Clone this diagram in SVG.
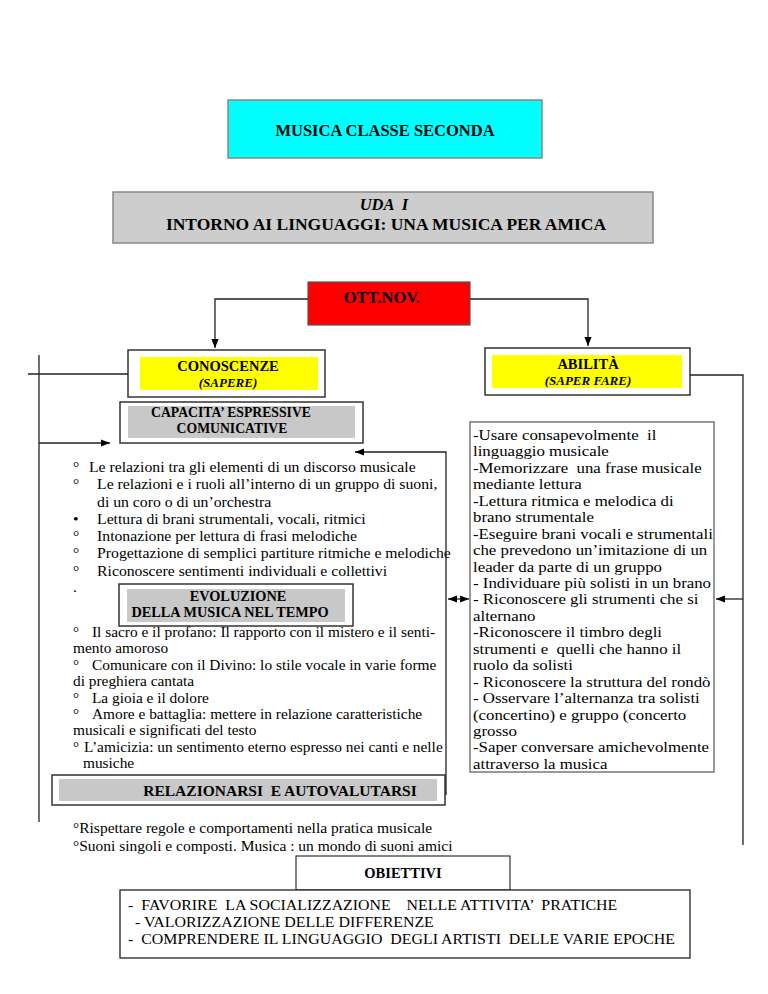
<svg xmlns="http://www.w3.org/2000/svg" width="768" height="994" viewBox="0 0 768 994">
<style>
text{font-family:"Liberation Serif","Times New Roman",serif;fill:#000}
.b{font-weight:bold}
.bi{font-weight:bold;font-style:italic}
.c{text-anchor:middle}
.l1{font-size:15px}
.l2{font-size:14.5px}
.r{font-size:14.5px}
.s{font-size:15.5px}
.o{font-size:15px}
.ln{stroke:#222;stroke-width:1.3;fill:none}
.frame{fill:#fff;stroke:#333;stroke-width:1.5}
.gray{fill:#c8c8c8}
.yel{fill:#ffff00}
</style>
<defs>
<marker id="ah" viewBox="0 0 10 10" refX="10" refY="5" markerWidth="9" markerHeight="9" markerUnits="userSpaceOnUse" orient="auto-start-reverse">
<path d="M0,1 L10,5 L0,9 z" fill="#000"/>
</marker>
</defs>

<g id="title">
<rect x="228" y="100" width="314" height="58" fill="#00ffff" stroke="#888" stroke-width="1.5"/>
<text class="b c" x="385" y="136" font-size="16.5">MUSICA CLASSE SECONDA</text>
</g>

<g id="uda">
<rect x="113" y="192" width="540" height="51" fill="#cdcdcd" stroke="#888" stroke-width="1.5"/>
<text class="bi c" x="384" y="210" font-size="16.5" xml:space="preserve">UDA  I</text>
<text class="b c" x="386" y="229.5" font-size="17.5">INTORNO AI LINGUAGGI: UNA MUSICA PER AMICA</text>
</g>

<g id="ott">
<rect x="308" y="282" width="162" height="43" fill="#ff0000" stroke="#555" stroke-width="1.2"/>
<text class="b c" x="382" y="303" font-size="16.5">OTT.NOV.</text>
</g>

<g id="conoscenze">
<rect class="frame" x="128" y="350" width="197" height="47"/>
<rect class="yel" x="140" y="357" width="178" height="33"/>
<text class="b c" x="228" y="371" font-size="14.5">CONOSCENZE</text>
<text class="bi c" x="228" y="387" font-size="13">(SAPERE)</text>
</g>

<g id="abilita">
<rect class="frame" x="485" y="348" width="205" height="47"/>
<rect class="yel" x="492" y="355" width="190" height="33"/>
<text class="b c" x="588" y="369" font-size="14.5">ABILITÀ</text>
<text class="bi c" x="588" y="385" font-size="13">(SAPER FARE)</text>
</g>

<g id="capacita">
<rect class="frame" x="120" y="402" width="243" height="41"/>
<rect class="gray" x="128" y="406" width="227" height="32"/>
<text class="b c" x="231" y="417" font-size="13.7">CAPACITA’ ESPRESSIVE</text>
<text class="b c" x="232" y="433" font-size="13.7">COMUNICATIVE</text>
</g>

<g id="lista-capacita" class="l1" transform="translate(73 0) scale(1.05 1)">
<text x="0" y="472">°</text>
<text x="15.2" y="472">Le relazioni tra gli elementi di un discorso musicale</text>
<text x="0" y="489.3">°</text>
<text x="22.9" y="489.3">Le relazioni e i ruoli all’interno di un gruppo di suoni,</text>
<text x="22.9" y="506.6">di un coro o di un’orchestra</text>
<text x="0" y="523.9">•</text>
<text x="22.9" y="523.9">Lettura di brani strumentali, vocali, ritmici</text>
<text x="0" y="541.2">°</text>
<text x="22.9" y="541.2">Intonazione per lettura di frasi melodiche</text>
<text x="0" y="558.5">°</text>
<text x="22.9" y="558.5">Progettazione di semplici partiture ritmiche e melodiche</text>
<text x="0" y="575.8">°</text>
<text x="22.9" y="575.8">Riconoscere sentimenti individuali e collettivi</text>
<text x="0" y="592">.</text>
</g>

<g id="evoluzione">
<rect class="frame" x="119" y="584" width="234" height="42"/>
<rect class="gray" x="127" y="589" width="218" height="33"/>
<text class="b c" x="238" y="601" font-size="14.3">EVOLUZIONE</text>
<text class="b c" x="230" y="617" font-size="14.3">DELLA MUSICA NEL TEMPO</text>
</g>

<g id="lista-evoluzione" class="l2" transform="translate(73 0) scale(1.06 1)">
<text x="0" y="637">°</text>
<text x="17.9" y="637">Il sacro e il profano: Il rapporto con il mistero e il senti-</text>
<text x="0" y="653.4">mento amoroso</text>
<text x="0" y="669.8">°</text>
<text x="17.9" y="669.8">Comunicare con il Divino: lo stile vocale in varie forme</text>
<text x="0" y="686.2">di preghiera cantata</text>
<text x="0" y="702.6">°</text>
<text x="17.9" y="702.6">La gioia e il dolore</text>
<text x="0" y="719">°</text>
<text x="17.9" y="719">Amore e battaglia: mettere in relazione caratteristiche</text>
<text x="0" y="735.4">musicali e significati del testo</text>
<text x="0" y="751.8">°</text>
<text x="10.4" y="751.8">L’amicizia: un sentimento eterno espresso nei canti e nelle</text>
<text x="9.4" y="768.2">musiche</text>
</g>

<g id="relazionarsi">
<rect class="frame" x="52" y="775" width="393" height="30"/>
<rect class="gray" x="59" y="779" width="378" height="22"/>
<text class="b c" x="280" y="796" font-size="15.5" xml:space="preserve">RELAZIONARSI  E AUTOVALUTARSI</text>
</g>

<g id="lista-relazionarsi" class="s">
<text x="73" y="833">°Rispettare regole e comportamenti nella pratica musicale</text>
<text x="73" y="851">°Suoni singoli e composti. Musica : un mondo di suoni amici</text>
</g>

<g id="abilita-lista">
<rect x="470" y="422" width="244" height="350" fill="#fff" stroke="#555" stroke-width="1.2"/>
<g class="r" transform="translate(473 0) scale(1.16 1)">
<text x="0" y="440" xml:space="preserve">-Usare consapevolmente  il</text>
<text x="0" y="456.5">linguaggio musicale</text>
<text x="0" y="473" xml:space="preserve">-Memorizzare  una frase musicale</text>
<text x="0" y="489.4">mediante lettura</text>
<text x="0" y="505.8">-Lettura ritmica e melodica di</text>
<text x="0" y="522.3">brano strumentale</text>
<text x="0" y="538.7">-Eseguire brani vocali e strumentali</text>
<text x="0" y="555.2">che prevedono un’imitazione di un</text>
<text x="0" y="571.6">leader da parte di un gruppo</text>
<text x="0" y="588">- Individuare più solisti in un brano</text>
<text x="0" y="604.5">- Riconoscere gli strumenti che si</text>
<text x="0" y="621">alternano</text>
<text x="0" y="637.4">-Riconoscere il timbro degli</text>
<text x="0" y="653.8" xml:space="preserve">strumenti e  quelli che hanno il</text>
<text x="0" y="670.3">ruolo da solisti</text>
<text x="0" y="686.7">- Riconoscere la struttura del rondò</text>
<text x="0" y="703.2">- Osservare l’alternanza tra solisti</text>
<text x="0" y="719.6">(concertino) e gruppo (concerto</text>
<text x="0" y="736">grosso</text>
<text x="0" y="752.5">-Saper conversare amichevolmente</text>
<text x="0" y="769">attraverso la musica</text>
</g>
</g>

<g id="obiettivi">
<rect x="296" y="856" width="214" height="34" fill="#fff" stroke="#333" stroke-width="1.2"/>
<text class="b c" x="403" y="878" font-size="14.5">OBIETTIVI</text>
</g>

<g id="obiettivi-lista">
<rect x="120" y="890" width="570" height="68" fill="#fff" stroke="#222" stroke-width="1.3"/>
<g class="o" transform="translate(128 0) scale(1.06 1)">
<text x="0" y="910" xml:space="preserve">-  FAVORIRE  LA SOCIALIZZAZIONE    NELLE ATTIVITA’  PRATICHE</text>
<text x="2.8" y="927" xml:space="preserve"> - VALORIZZAZIONE DELLE DIFFERENZE</text>
<text x="0" y="944" xml:space="preserve">-  COMPRENDERE IL LINGUAGGIO  DEGLI ARTISTI  DELLE VARIE EPOCHE</text>
</g>
</g>

<g id="connectors">
<path class="ln" d="M308,299 H215 V348" marker-end="url(#ah)"/>
<path class="ln" d="M470,299 H588 V346" marker-end="url(#ah)"/>
<path class="ln" d="M128,374 H28"/>
<path class="ln" d="M39,355 V822"/>
<path class="ln" d="M39,443 H110" marker-end="url(#ah)"/>
<path class="ln" d="M446,795 V452 H355" marker-end="url(#ah)"/>
<path class="ln" d="M448,599 H469" marker-start="url(#ah)" marker-end="url(#ah)"/>
<path class="ln" d="M690,375 H743 V845"/>
<path class="ln" d="M743,599 H716" marker-end="url(#ah)"/>
</g>
</svg>
